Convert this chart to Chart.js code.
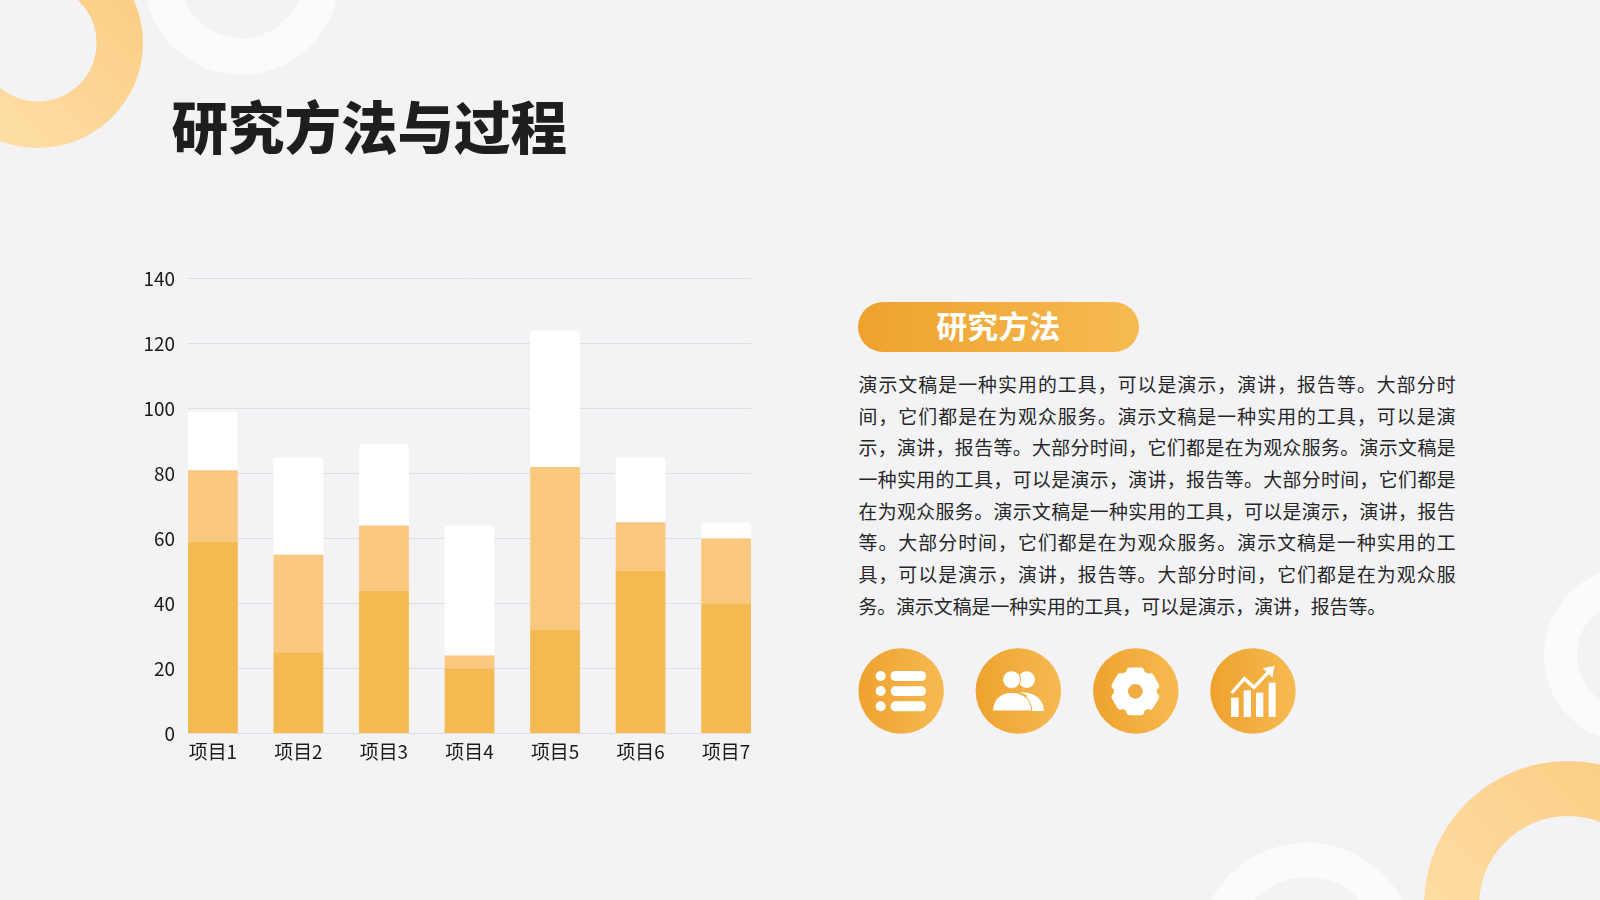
<!DOCTYPE html>
<html lang="zh">
<head>
<meta charset="utf-8">
<title>研究方法与过程</title>
<script src="https://cdn.jsdelivr.net/npm/chart.js@4"></script>
<style>
html,body{margin:0;padding:0;width:1600px;height:900px;overflow:hidden;background:#F3F3F6;font-family:"Noto Sans CJK SC","Noto Sans",sans-serif}
svg.bg,canvas#c{position:absolute;left:0;top:0}
#title{position:absolute;left:171.5px;top:82px;font-size:56.5px;line-height:84px;font-weight:900;color:#1E1E1E;white-space:nowrap}
#pill{position:absolute;left:858px;top:302px;width:280.5px;height:50px;border-radius:25px;background:linear-gradient(90deg,#EEA22E,#F6BA52);color:#fff;font-size:31px;font-weight:700;line-height:46px;text-align:center}
#para{position:absolute;left:858.5px;top:368px;width:597px;font-size:18.85px;line-height:31.7px;color:#262626}
#para div{text-align:justify;text-align-last:justify;white-space:nowrap;height:31.7px}
#para div:last-child{text-align-last:left}
</style>
</head>
<body>
<svg class="bg" width="1600" height="900" viewBox="0 0 1600 900" xmlns="http://www.w3.org/2000/svg">
<defs>
<linearGradient id="ringA" x1="1" y1="0" x2="0" y2="1"><stop offset="0" stop-color="#FBC97C"/><stop offset="1" stop-color="#FEE3B0"/></linearGradient>
<linearGradient id="icon" x1="0" y1="0" x2="1" y2="0"><stop offset="0" stop-color="#EEA22E"/><stop offset="1" stop-color="#F6BA52"/></linearGradient>
</defs>
<path fill="url(#ringA)" fill-rule="evenodd" d="M-67,43a105,105 0 1,0 210,0a105,105 0 1,0 -210,0ZM-20.5,43a58.5,58.5 0 1,0 117,0a58.5,58.5 0 1,0 -117,0Z"/>
<path fill="url(#ringA)" fill-rule="evenodd" d="M1424,905a144,144 0 1,1 288,0a144,144 0 1,1 -288,0ZM1479.200,905a88.800,88.800 0 1,1 177.600,0a88.800,88.800 0 1,1 -177.600,0Z"/>
<g fill="none" stroke="#FBFBFC">
<circle cx="241.600" cy="-23" r="79.500" stroke-width="36.500"/>
<circle cx="1306.700" cy="951" r="91" stroke-width="34.500"/>
<circle cx="1632" cy="655" r="71.500" stroke-width="33"/>
</g>
<g transform="translate(840 635) scale(0.33333)">
<circle cx="183.500" cy="168" r="128.300" fill="url(#icon)"/>
<circle cx="535" cy="168" r="128.300" fill="url(#icon)"/>
<circle cx="887.500" cy="168" r="128.300" fill="url(#icon)"/>
<circle cx="1239" cy="168" r="128.300" fill="url(#icon)"/>
<g fill="#fff">
<circle cx="122" cy="123" r="15"/><circle cx="122" cy="168" r="15"/><circle cx="122" cy="214" r="15"/>
<rect x="152" y="108" width="106" height="30" rx="14"/><rect x="152" y="154" width="106" height="29" rx="14"/><rect x="152" y="199" width="106" height="30" rx="14"/>
<circle cx="560" cy="134" r="25"/>
<path d="M540,172C590,172 612,198 612,228H560V180Z"/>
<circle cx="515" cy="134" r="27" stroke="#F1AB3D" stroke-width="3"/>
<path d="M458,228C458,194 482,172 515,172C550,172 575,194 575,228Z" stroke="#F1AB3D" stroke-width="3"/>
<circle cx="886" cy="169" r="65"/>
<g transform="translate(886 169)">
<rect x="-27" y="-71.500" width="54" height="30" rx="12"/>
<rect x="-27" y="-71.500" width="54" height="30" rx="12" transform="rotate(60)"/>
<rect x="-27" y="-71.500" width="54" height="30" rx="12" transform="rotate(120)"/>
<rect x="-27" y="-71.500" width="54" height="30" rx="12" transform="rotate(180)"/>
<rect x="-27" y="-71.500" width="54" height="30" rx="12" transform="rotate(240)"/>
<rect x="-27" y="-71.500" width="54" height="30" rx="12" transform="rotate(300)"/>
</g>
</g>
<circle cx="886" cy="169" r="22" fill="#F2AD42"/>
<g fill="#fff">
<rect x="1173" y="188" width="23" height="58"/><rect x="1211" y="166" width="22" height="80"/><rect x="1248" y="173" width="22" height="73"/><rect x="1286" y="143" width="21" height="103"/>
<path d="M1304,92L1268,100L1297,128Z"/>
</g>
<path d="M1175,174L1213,131L1242,157L1284,113" fill="none" stroke="#fff" stroke-width="10"/>
</g>
</svg>
<div id="title">研究方法与过程</div>
<div id="pill">研究方法</div>
<div id="para"></div>
<canvas id="c" width="1600" height="900"></canvas>
<script>
const categories = ["项目1","项目2","项目3","项目4","项目5","项目6","项目7"];
const seriesBottom = [59,25,44,20,32,50,40];
const seriesMiddle = [22,30,20,4,50,15,20];
const seriesTop = [18,30,25,40,42,20,5];
const paragraphLines = [
"演示文稿是一种实用的工具，可以是演示，演讲，报告等。大部分时",
"间，它们都是在为观众服务。演示文稿是一种实用的工具，可以是演",
"示，演讲，报告等。大部分时间，它们都是在为观众服务。演示文稿是",
"一种实用的工具，可以是演示，演讲，报告等。大部分时间，它们都是",
"在为观众服务。演示文稿是一种实用的工具，可以是演示，演讲，报告",
"等。大部分时间，它们都是在为观众服务。演示文稿是一种实用的工",
"具，可以是演示，演讲，报告等。大部分时间，它们都是在为观众服",
"务。演示文稿是一种实用的工具，可以是演示，演讲，报告等。"
];
document.getElementById('para').innerHTML = paragraphLines.map(t=>'<div>'+t+'</div>').join('');
const toPoints = arr => arr.map((v,i)=>({x:i,y:v}));
const FONT = '"Noto Sans CJK SC","Noto Sans",sans-serif';
const halfBar = 0.291;
new Chart(document.getElementById('c'),{
  type:'bar',
  data:{labels:categories,datasets:[
    {label:'系列1',data:toPoints(seriesBottom),backgroundColor:'#F5B952'},
    {label:'系列2',data:toPoints(seriesMiddle),backgroundColor:'#FBC87F'},
    {label:'系列3',data:toPoints(seriesTop),backgroundColor:'#FFFFFF',borderRadius:{topLeft:4,topRight:4,bottomLeft:0,bottomRight:0},borderSkipped:false}
  ]},
  options:{
    responsive:false,animation:false,devicePixelRatio:1,
    layout:{padding:{left:0,top:278.5,right:849,bottom:130}},
    plugins:{legend:{display:false},tooltip:{enabled:false},title:{display:false}},
    datasets:{bar:{categoryPercentage:1,barPercentage:2*halfBar}},
    scales:{
      x:{type:'linear',stacked:true,offset:false,min:-halfBar,max:categories.length-1+halfBar,
        grid:{display:false,drawTicks:false},border:{display:false},
        afterBuildTicks(s){s.ticks=categories.map((_,i)=>({value:i}));},
        ticks:{autoSkip:false,maxRotation:0,minRotation:0,padding:7,color:'#1A1A1A',font:{family:FONT,size:18.9},
          callback(v){return categories[v];}},
        afterFit(s){s.height=36.5;}
      },
      y:{stacked:true,min:0,max:140,
        grid:{color:'#DFDFE3',lineWidth:1,drawTicks:false},border:{display:false},
        ticks:{stepSize:20,padding:13,color:'#1A1A1A',font:{family:FONT,size:18.9}},
        afterFit(s){s.width=188;}
      }
    }
  }
});
</script>
</body>
</html>
